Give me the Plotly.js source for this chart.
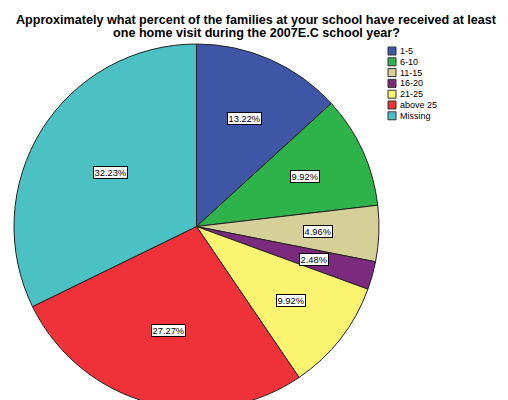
<!DOCTYPE html>
<html>
<head>
<meta charset="utf-8">
<script src="https://cdn.plot.ly/plotly-3.0.1.min.js"></script>
<style>
html,body{margin:0;padding:0;overflow:hidden;background:#fff;}
#chart{width:508px;height:409px;}
</style>
</head>
<body>
<div id="chart"></div>
<script>
// ---- data ----
const categories = ['1-5', '6-10', '11-15', '16-20', '21-25', 'above 25', 'Missing'];
const percents = [13.22, 9.92, 4.96, 2.48, 9.92, 27.27, 32.23];
const sliceColors = ['#3F56A6', '#2EB34A', '#D5CF98', '#7C2A7E', '#FAF470', '#EF3239', '#4BC1C4'];
const titleLine1 = 'Approximately what percent of the families at your school have received at least';
const titleLine2 = 'one home visit during the 2007E.C school year?';

// ---- layout geometry ----
const W = 508, H = 409, T = 44, B = 0;
const plotH = H - T - B;
const cxPx = 196.5;
const R = plotH / 2;
const cyPx = T + R;
const domX0 = (cxPx - R) / W, domX1 = (cxPx + R) / W;
const toPaperX = px => px / W;
const toPaperY = py => (H - B - py) / plotH;

const font = 'Arial, "Liberation Sans", sans-serif';
const annotations = [];
const shapes = [];

// slice labels at sector centroids
const total = percents.reduce((a, b) => a + b, 0);
let cum = 0;
percents.forEach((p, i) => {
  const frac = p / total;
  const alpha = 2 * Math.PI * frac;
  const theta = 2 * Math.PI * (cum + frac / 2);
  const d = 4 * R * Math.sin(alpha / 2) / (3 * alpha);
  const px = cxPx + d * Math.sin(theta);
  const py = cyPx - d * Math.cos(theta);
  annotations.push({
    xref: 'paper', yref: 'paper', x: toPaperX(px), y: toPaperY(py),
    xanchor: 'center', yanchor: 'middle', showarrow: false,
    text: p.toFixed(2) + '%',
    font: {family: font, size: 9.3, color: '#000'},
    bgcolor: '#fff', bordercolor: '#000', borderwidth: 1, borderpad: 0.6
  });
  cum += frac;
});

// title second line
annotations.push({
  xref: 'paper', yref: 'paper', x: toPaperX(256), y: toPaperY(33),
  xanchor: 'center', yanchor: 'middle', showarrow: false,
  text: '<b>' + titleLine2 + '</b>',
  font: {family: font, size: 12.6, color: '#000'}
});

// custom legend
categories.forEach((c, i) => {
  const yc = 51 + 10.8 * i;
  shapes.push({
    type: 'rect', xref: 'paper', yref: 'paper',
    x0: toPaperX(388), x1: toPaperX(396), y0: toPaperY(yc + 4), y1: toPaperY(yc - 4),
    fillcolor: sliceColors[i], line: {color: '#333', width: 1}
  });
  annotations.push({
    xref: 'paper', yref: 'paper', x: toPaperX(398), y: toPaperY(yc),
    xanchor: 'left', yanchor: 'middle', showarrow: false,
    text: c, font: {family: font, size: 9, color: '#000'}
  });
});

const trace = {
  type: 'pie',
  labels: categories,
  values: percents,
  sort: false,
  direction: 'clockwise',
  rotation: 0,
  textinfo: 'none',
  textposition: 'none',
  hoverinfo: 'label+percent',
  marker: {colors: sliceColors, line: {color: '#222', width: 1}},
  domain: {x: [domX0, domX1], y: [0, 1]},
  showlegend: false
};

const layout = {
  width: W, height: H,
  margin: {l: 0, r: 0, t: T, b: B, pad: 0},
  paper_bgcolor: '#fff', plot_bgcolor: '#fff',
  showlegend: false,
  title: {
    text: '<b>' + titleLine1 + '</b>',
    font: {family: font, size: 12.6, color: '#000'},
    x: 256 / W, xanchor: 'center', xref: 'paper',
    y: 1 - 19.5 / H, yanchor: 'middle', yref: 'container'
  },
  annotations: annotations,
  shapes: shapes
};

Plotly.newPlot('chart', [trace], layout, {displayModeBar: false, staticPlot: true});
</script>
</body>
</html>
